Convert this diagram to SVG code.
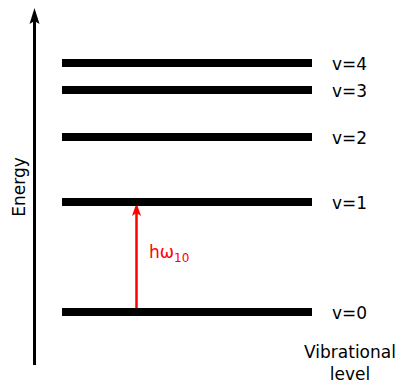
<svg xmlns="http://www.w3.org/2000/svg" width="396" height="383" viewBox="0 0 396 383">
<style>
.lvl{fill:#000}
.t{font-family:"DejaVu Sans",sans-serif;font-size:17px;fill:#000}
</style>
<rect width="396" height="383" fill="#fff"/>
<g id="connectors">
<line x1="34.5" y1="365" x2="34.5" y2="20" stroke="#000" stroke-width="3"/>
<polygon points="34.5,8 29.5,24 34.5,21 39.5,24" fill="#000"/>
<line x1="136.5" y1="308" x2="136.5" y2="212" stroke="#f00" stroke-width="2.5"/>
<polygon points="136.5,203 132,216 136.5,213 141,216" fill="#f00"/>
</g>
<g id="axis-label"><text class="t" transform="translate(25,187) rotate(-90)" text-anchor="middle">Energy</text></g>
<g id="v4"><rect class="lvl" x="62" y="59" width="250" height="8"/><text class="t" x="332" y="69.5">v=4</text></g>
<g id="v3"><rect class="lvl" x="62" y="86" width="250" height="8"/><text class="t" x="332" y="96.5">v=3</text></g>
<g id="v2"><rect class="lvl" x="62" y="133" width="250" height="8"/><text class="t" x="332" y="143.5">v=2</text></g>
<g id="v1"><rect class="lvl" x="62" y="198" width="250" height="8"/><text class="t" x="332" y="208.5">v=1</text></g>
<g id="v0"><rect class="lvl" x="62" y="308" width="250" height="8"/><text class="t" x="332" y="318.5">v=0</text></g>
<g id="transition-label"><text class="t" x="149" y="258" style="fill:#f00">hω<tspan font-size="12" dy="4">10</tspan></text></g>
<g id="x-label"><text class="t" x="350" y="358" text-anchor="middle">Vibrational</text><text class="t" x="350" y="380" text-anchor="middle">level</text></g>
</svg>
